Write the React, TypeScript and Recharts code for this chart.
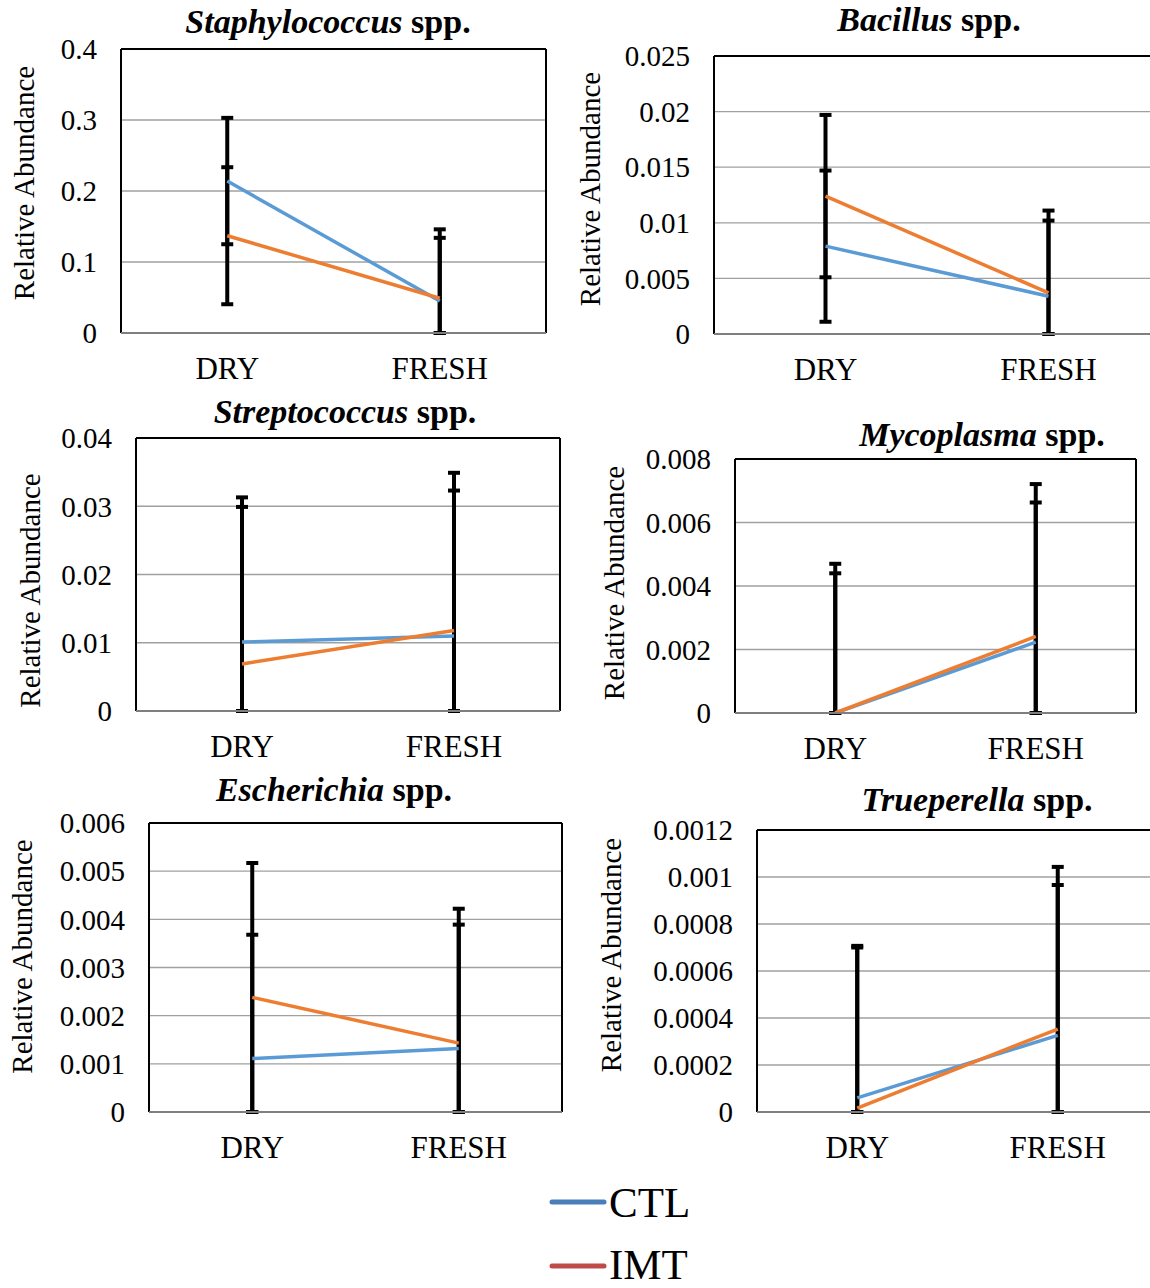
import React from "react";
import { CartesianGrid, ErrorBar, Line, LineChart, XAxis, YAxis } from "recharts";

const categories = ["DRY", "FRESH"];
const seriesNames = ["CTL", "IMT"];

// mean relative abundance and error per group, DRY then FRESH
const staphCtl = [0.214, 0.045];
const staphImt = [0.137, 0.049];
const staphCtlErr = [0.089, 0.089];
const staphImtErr = [0.0965, 0.097];
const staphTicks = [0, 0.1, 0.2, 0.3, 0.4];

const bacilCtl = [0.0079, 0.0034];
const bacilImt = [0.0124, 0.0037];
const bacilCtlErr = [0.0068, 0.0068];
const bacilImtErr = [0.0073, 0.0074];
const bacilTicks = [0, 0.005, 0.01, 0.015, 0.02, 0.025];

const streptCtl = [0.0101, 0.011];
const streptImt = [0.0069, 0.0118];
const streptCtlErr = [0.0212, 0.0213];
const streptImtErr = [0.023, 0.0231];
const streptTicks = [0, 0.01, 0.02, 0.03, 0.04];

const mycoCtl = [0, 0.00223];
const mycoImt = [0, 0.00241];
const mycoCtlErr = [0.0044, 0.0044];
const mycoImtErr = [0.0047, 0.0048];
const mycoTicks = [0, 0.002, 0.004, 0.006, 0.008];

const escheCtl = [0.00111, 0.00132];
const escheImt = [0.00238, 0.00143];
const escheCtlErr = [0.00257, 0.00257];
const escheImtErr = [0.00279, 0.00279];
const escheTicks = [0, 0.001, 0.002, 0.003, 0.004, 0.005, 0.006];

const truepCtl = [0.00006, 0.000326];
const truepImt = [0.000017, 0.000353];
const truepCtlErr = [0.00064, 0.00064];
const truepImtErr = [0.00069, 0.00069];
const truepTicks = [0, 0.0002, 0.0004, 0.0006, 0.0008, 0.001, 0.0012];

const FONT = '"Liberation Serif", "Times New Roman", serif';
const CTL_COLOR = "#5b9bd5";
const IMT_COLOR = "#ed7d31";

type Panel = {
  genus: string;
  ctl: number[];
  imt: number[];
  ctlErr: number[];
  imtErr: number[];
  ticks: number[];
  // plot rectangle on the page
  plot: { x: number; y: number; w: number; h: number };
  title: { x: number; y: number };
  labelOffset: number;
  labelDy: number;
};

const panels: Panel[] = [
  {
    genus: "Staphylococcus", ctl: staphCtl, imt: staphImt, ctlErr: staphCtlErr, imtErr: staphImtErr, ticks: staphTicks,
    plot: { x: 121, y: 49, w: 425, h: 284 }, title: { x: 328, y: 22 }, labelOffset: 97, labelDy: -8,
  },
  {
    genus: "Bacillus", ctl: bacilCtl, imt: bacilImt, ctlErr: bacilCtlErr, imtErr: bacilImtErr, ticks: bacilTicks,
    plot: { x: 714, y: 56, w: 446, h: 278 }, title: { x: 929, y: 20 }, labelOffset: 124, labelDy: -6,
  },
  {
    genus: "Streptococcus", ctl: streptCtl, imt: streptImt, ctlErr: streptCtlErr, imtErr: streptImtErr, ticks: streptTicks,
    plot: { x: 136, y: 438, w: 424, h: 273 }, title: { x: 345, y: 412 }, labelOffset: 106, labelDy: 16,
  },
  {
    genus: "Mycoplasma", ctl: mycoCtl, imt: mycoImt, ctlErr: mycoCtlErr, imtErr: mycoImtErr, ticks: mycoTicks,
    plot: { x: 735, y: 459, w: 401, h: 254 }, title: { x: 982, y: 435 }, labelOffset: 121, labelDy: -3,
  },
  {
    genus: "Escherichia", ctl: escheCtl, imt: escheImt, ctlErr: escheCtlErr, imtErr: escheImtErr, ticks: escheTicks,
    plot: { x: 149, y: 823, w: 413, h: 289 }, title: { x: 334, y: 790 }, labelOffset: 127, labelDy: -11,
  },
  {
    genus: "Trueperella", ctl: truepCtl, imt: truepImt, ctlErr: truepCtlErr, imtErr: truepImtErr, ticks: truepTicks,
    plot: { x: 757, y: 830, w: 401, h: 282 }, title: { x: 977, y: 800 }, labelOffset: 146, labelDy: -16,
  },
];

const AXIS_W = 185;
const AXIS_H = 70;
const PAD = 22;

// error arms: the lower arm stops at the zero line, as the axis floor cuts it
const arms = (value: number, err: number) => [Math.min(err, value), err];

// frame lines around the plot area
const frameSides = ({ offset }: any) => [offset.left, offset.left + offset.width];
const frameTop = ({ offset }: any) => [offset.top];

function AbundancePanel({ p }: { p: Panel }) {
  const rows = categories.map((cat, i) => ({
    cat,
    CTL: p.ctl[i],
    IMT: p.imt[i],
    ctlErr: arms(p.ctl[i], p.ctlErr[i]),
    imtErr: arms(p.imt[i], p.imtErr[i]),
  }));
  const top = p.ticks[p.ticks.length - 1];
  const tickStyle = { fill: "#000", fontSize: 29, fontFamily: FONT };

  return (
    <>
      <div
        style={{
          position: "absolute",
          left: p.title.x,
          top: p.title.y,
          transform: "translate(-50%, -50%)",
          whiteSpace: "nowrap",
          fontFamily: FONT,
          fontSize: 34,
          fontWeight: "bold",
          lineHeight: 1,
        }}
      >
        <i>{p.genus}</i> spp.
      </div>
      <div style={{ position: "absolute", left: p.plot.x - AXIS_W, top: p.plot.y - PAD }}>
        <LineChart
          width={p.plot.w + AXIS_W + PAD}
          height={p.plot.h + PAD + AXIS_H}
          data={rows}
          margin={{ top: PAD, right: PAD, left: 0, bottom: 0 }}
        >
          <CartesianGrid vertical={false} stroke="#a0a0a0" strokeWidth={1.3} />
          <CartesianGrid horizontal={false} verticalCoordinatesGenerator={frameSides} stroke="#000" strokeWidth={2} />
          <CartesianGrid vertical={false} horizontalCoordinatesGenerator={frameTop} stroke="#000" strokeWidth={2} />
          <XAxis
            dataKey="cat"
            scale="band"
            height={AXIS_H}
            interval={0}
            tickLine={false}
            tickSize={0}
            tickMargin={24}
            axisLine={{ stroke: "#7f7f7f", strokeWidth: 2 }}
            tick={{ ...tickStyle, fontSize: 31 }}
          />
          <YAxis
            domain={[0, top]}
            ticks={p.ticks}
            interval={0}
            allowDataOverflow
            width={AXIS_W}
            tickLine={false}
            tickSize={0}
            tickMargin={24}
            axisLine={false}
            tick={tickStyle}
            label={{
              value: "Relative Abundance",
              angle: -90,
              position: "center",
              dx: AXIS_W / 2 - p.labelOffset,
              dy: p.labelDy,
              style: { fill: "#000", fontSize: 29, fontFamily: FONT },
            }}
          />
          {/* error bars first so the mean lines sit on top of them */}
          <Line dataKey="CTL" stroke="none" dot={false} legendType="none" isAnimationActive={false}>
            <ErrorBar dataKey="ctlErr" direction="y" width={6} stroke="#000" strokeWidth={4} />
          </Line>
          <Line dataKey="IMT" stroke="none" dot={false} legendType="none" isAnimationActive={false}>
            <ErrorBar dataKey="imtErr" direction="y" width={6} stroke="#000" strokeWidth={4} />
          </Line>
          <Line dataKey="CTL" stroke={CTL_COLOR} strokeWidth={3.5} dot={false} isAnimationActive={false} />
          <Line dataKey="IMT" stroke={IMT_COLOR} strokeWidth={3.5} dot={false} isAnimationActive={false} />
        </LineChart>
      </div>
    </>
  );
}

const legendColors = ["#4a7ebb", "#be4b48"];

export default function App() {
  return (
    <div style={{ position: "relative", width: 1150, height: 1288, overflow: "hidden", background: "#fff" }}>
      <style>{"body{margin:0}"}</style>
      {panels.map((p) => (
        <AbundancePanel key={p.genus} p={p} />
      ))}
      <svg style={{ position: "absolute", left: 0, top: 1166 }} width={1150} height={122}>
        {seriesNames.map((name, i) => (
          <g key={name}>
            <line x1={552} x2={604} y1={36 + i * 64} y2={36 + i * 64} stroke={legendColors[i]} strokeWidth={5} strokeLinecap="round" />
            <text x={609} y={51 + i * 62} fontFamily={FONT} fontSize={43} fill="#000">
              {name}
            </text>
          </g>
        ))}
      </svg>
    </div>
  );
}
